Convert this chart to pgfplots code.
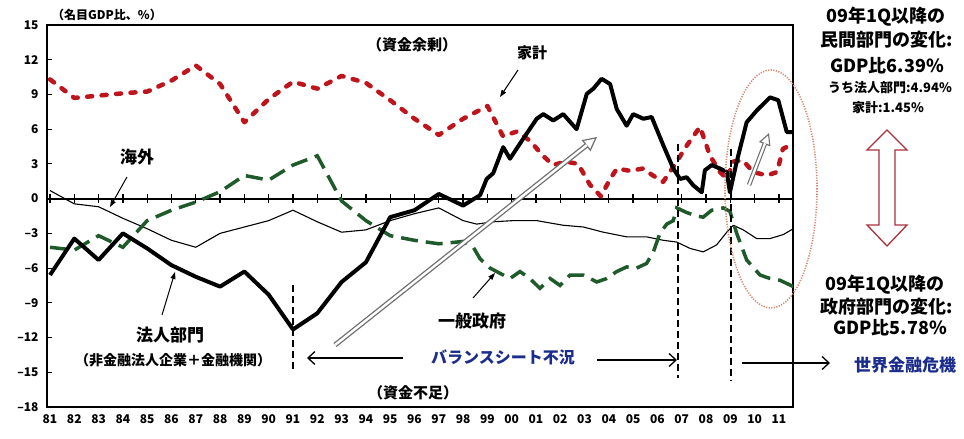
\documentclass[border=0pt]{standalone}
\usepackage{fontspec}
\setmainfont{Noto Sans CJK JP}
\usepackage{pgfplots}
\pgfplotsset{compat=1.18}
\usetikzlibrary{arrows.meta}

\definecolor{hhred}{HTML}{C0141C}
\definecolor{govgreen}{HTML}{1E5A2A}
\definecolor{navyblue}{HTML}{1C2C8C}
\definecolor{ellcol}{HTML}{D98870}
\definecolor{arrred}{HTML}{A8323C}
\definecolor{arrgray}{HTML}{6E6E6E}

\newcommand\fs[1]{\fontsize{#1}{#1}\selectfont\bfseries}

\pgfplotsset{
  frame/.style={
    at={(47pt,32pt)}, anchor=south west, scale only axis,
    width=746pt, height=382pt,
    xmin=1980.877, xmax=2011.576, ymin=-18, ymax=15,
  }
}

\begin{document}
\begin{tikzpicture}[x=1pt,y=1pt]
\path[use as bounding box] (0,0) rectangle (964,439);

% zero line with a tick for every year
\begin{axis}[frame,
  axis x line=middle, axis y line=none,
  x axis line style={-, line width=1.8pt},
  xtick={1981,...,2011}, xticklabels={}, ytick=\empty,
  tick align=center, major tick length=9pt,
  xtick style={line width=1.3pt, black}]
\end{axis}

\begin{axis}[frame,
  axis line style={line width=1.6pt},
  xtick={1981,...,2011},
  xticklabels={81,82,83,84,85,86,87,88,89,90,91,92,93,94,95,96,97,98,99,00,01,02,03,04,05,06,07,08,09,10,11},
  xtick style={draw=none}, xtick pos=bottom,
  ytick={-18,-15,...,15},
  yticklabels={–18,–15,–12,–9,–6,–3,0,3,6,9,12,15},
  ytick pos=left, tick align=inside, major tick length=5pt,
  ytick style={line width=1pt, black},
  tick label style={font=\fs{12}},
  xticklabel style={yshift=-4pt},
  yticklabel style={xshift=-5pt},
]
% 海外
\addplot[black, line width=1.1pt, line join=round] coordinates {
(1981,0.7)(1982,-0.45)(1983,-0.7)(1984,-1.7)(1985,-2.6)(1986,-3.6)(1987,-4.2)
(1988,-3.0)(1989,-2.45)(1990,-1.9)(1991,-1.0)(1992,-2.0)(1993,-2.9)(1994,-2.7)
(1995,-1.9)(1996,-1.3)(1997,-0.8)(1998,-1.9)(1998.56,-2.2)(1999.24,-2.0)
(2000.07,-1.9)(2001.03,-1.9)(2002.12,-2.3)(2002.95,-2.45)(2003.77,-2.9)
(2004.73,-3.3)(2005.55,-3.3)(2006.24,-3.6)(2006.79,-3.75)(2007.34,-4.3)
(2007.88,-4.6)(2008.43,-4.0)(2008.85,-2.9)(2009.12,-2.3)(2009.53,-2.7)
(2010.08,-3.45)(2010.63,-3.45)(2011.18,-3.1)(2011.59,-2.6)};
% 一般政府
\addplot[govgreen, line width=3.5pt, dash pattern=on 17pt off 8pt] coordinates {
(1981,-4.2)(1982,-4.45)(1983,-3.2)(1984,-4.2)(1985,-1.9)(1986,-1.0)(1987,-0.3)
(1988,0.6)(1989,2.0)(1990,1.6)(1991,2.9)(1992,3.7)(1993,-0.2)(1994,-1.9)
(1995,-3.2)(1996,-3.6)(1997,-3.9)(1998,-3.7)(1998.42,-4.2)(1998.70,-5.2)
(1999.11,-6.0)(1999.38,-6.3)(1999.93,-6.9)(2000.34,-6.3)(2000.75,-6.9)
(2001.16,-7.75)(2001.58,-6.9)(2001.99,-7.5)(2002.40,-6.6)(2002.95,-6.6)
(2003.50,-7.2)(2003.91,-6.9)(2004.32,-6.3)(2004.73,-5.9)(2005.14,-6.0)
(2005.55,-5.6)(2005.83,-4.6)(2006.10,-3.0)(2006.38,-2.2)(2006.65,-1.9)
(2006.79,-0.8)(2007.20,-1.2)(2007.61,-1.5)(2007.88,-1.6)(2008.23,-1.0)
(2008.71,-0.8)(2008.98,-1.1)(2009.26,-3.0)(2009.67,-5.3)(2010.22,-6.6)
(2010.63,-6.9)(2011.04,-7.05)(2011.59,-7.6)};
% 家計
\addplot[hhred, line width=4.5pt, dash pattern=on 5pt off 9.5pt, line cap=round, line join=round] coordinates {
(1981,10.3)(1982,8.7)(1983,8.9)(1984,9.1)(1985,9.25)(1986,10.2)(1987,11.5)
(1988,9.9)(1989,6.6)(1990,8.6)(1991,10.1)(1992,9.5)(1993,10.6)(1994,10.0)
(1995,8.5)(1996,6.9)(1997,5.5)(1998,6.9)(1999,8.0)(1999.64,5.4)(2000.22,5.8)
(2000.75,5.0)(2001.29,3.7)(2001.70,2.9)(2002.23,3.2)(2002.73,3.0)(2003.22,1.2)
(2003.67,0.2)(2004.05,1.7)(2004.33,2.6)(2004.87,2.4)(2005.40,2.6)(2005.81,2.0)
(2006.23,1.45)(2006.64,2.7)(2007.21,4.6)(2007.75,6.2)(2008.16,3.7)(2008.57,2.3)
(2008.86,1.7)(2009.11,3.2)(2009.52,3.3)(2009.93,2.3)(2010.51,2.0)(2010.92,2.3)
(2011.16,4.3)(2011.45,4.6)};
% 法人部門
\addplot[black, line width=4pt, line join=round] coordinates {
(1981,-6.6)(1982,-3.45)(1983,-5.3)(1984,-3.0)(1985,-4.3)(1986,-5.75)(1987,-6.75)
(1988,-7.6)(1989,-6.3)(1990,-8.3)(1991,-11.3)(1992,-9.9)(1993,-7.2)(1994,-5.5)
(1995,-1.6)(1996,-1.0)(1997,0.4)(1998,-0.6)(1998.70,0.3)(1998.97,1.7)
(1999.24,2.2)(1999.65,4.45)(1999.93,3.45)(2000.48,5.2)(2001.03,6.9)(2001.30,7.3)
(2001.71,6.75)(2002.12,7.3)(2002.67,6.0)(2003.09,9.05)(2003.36,9.5)(2003.70,10.35)
(2004.05,9.9)(2004.32,7.75)(2004.73,6.3)(2005.00,7.3)(2005.42,6.9)(2005.76,7.05)
(2006.24,4.6)(2006.65,2.6)(2006.93,1.7)(2007.20,1.85)(2007.47,1.15)(2007.82,0.55)
(2007.95,2.45)(2008.23,2.9)(2008.57,2.6)(2008.85,2.3)(2008.98,0.55)(2009.26,3.2)
(2009.67,6.6)(2010.08,7.6)(2010.63,8.75)(2010.97,8.5)(2011.32,5.75)(2011.58,5.75)};

\draw[black, line width=1.8pt, dash pattern=on 7pt off 4pt]
  (axis cs:1991,-7.5) -- (axis cs:1991,-15.1)
  (axis cs:2006.85,4.7) -- (axis cs:2006.85,-15.5)
  (axis cs:2009.03,4.3) -- (axis cs:2009.03,-15.7);
\end{axis}

% gray trend arrows
\draw[line width=5pt, arrgray, -{Triangle[open, fill=white, length=14pt, width=14pt, line width=1.2pt]}] (335,94) -- (597,302);
\draw[line width=2.4pt, white, shorten >=13pt] (335,94) -- (597,302);
\draw[line width=4.5pt, arrgray, -{Triangle[open, fill=white, length=12pt, width=12pt, line width=1.1pt]}] (749,254) -- (769,306);
\draw[line width=2.2pt, white, shorten >=11pt] (749,254) -- (769,306);

% dotted ellipse
\draw[ellcol, line width=1.6pt, dash pattern=on 1.2pt off 1.4pt] (771,250) ellipse [x radius=46, y radius=119];

% pointer arrows
\draw[line width=1pt, -{Triangle[length=7pt, width=5pt]}]
  (518,369) -- (500,342);
\draw[line width=1pt, -{Triangle[length=7pt, width=5pt]}]
  (127,262) -- (110,232);
\draw[line width=1pt, -{Triangle[length=7pt, width=5pt]}]
  (162,124) -- (175,167);
\draw[line width=1pt, -{Triangle[length=7pt, width=5pt]}]
  (473,141) -- (495,166);

% period arrows
\draw[line width=1.3pt, -{Straight Barb[length=7pt, width=13pt]}] (403,81) -- (307,81);
\draw[line width=1.3pt, -{Straight Barb[length=7pt, width=13pt]}] (597,79) -- (677,79);
\draw[line width=1.3pt, -{Straight Barb[length=7pt, width=13pt]}] (742,76) -- (830,76);

% hollow double arrow
\draw[arrred, line width=1.3pt, fill=white]
  (887,309) -- (907,289) -- (895,289) -- (895,214) -- (907,214) -- (887,193)
  -- (867,214) -- (879,214) -- (879,289) -- (867,289) -- cycle;

% texts
\node[font=\fs{12}] at (107,424) {（名目GDP比、\%）};
\node[font=\fs{15}] at (412,394) {（資金余剰）};
\node[font=\fs{15}] at (532,386) {家計};
\node[font=\fs{17}] at (137,282) {海外};
\node[font=\fs{17}] at (170,104) {法人部門};
\node[font=\fs{14}] at (173,79) {（非金融法人企業＋金融機関）};
\node[font=\fs{17}] at (472,118) {一般政府};
\node[font=\fs{15}] at (413,46) {（資金不足）};
\node[font=\fs{16}, text=navyblue] at (503,82) {バランスシート不況};
\node[font=\fs{17}, text=navyblue] at (905,74) {世界金融危機};

\node[font=\fs{18}] at (886,422) {09年1Q以降の};
\node[font=\fs{18}] at (887,399) {民間部門の変化:};
\node[font=\fs{18}] at (887,373) {GDP比6.39\%};
\node[font=\fs{13}] at (890,351) {うち法人部門:4.94\%};
\node[font=\fs{13}] at (888,331) {家計:1.45\%};

\node[font=\fs{18}] at (885,154) {09年1Q以降の};
\node[font=\fs{18}] at (887,132) {政府部門の変化:};
\node[font=\fs{18}] at (890,111) {GDP比5.78\%};
\end{tikzpicture}
\end{document}
